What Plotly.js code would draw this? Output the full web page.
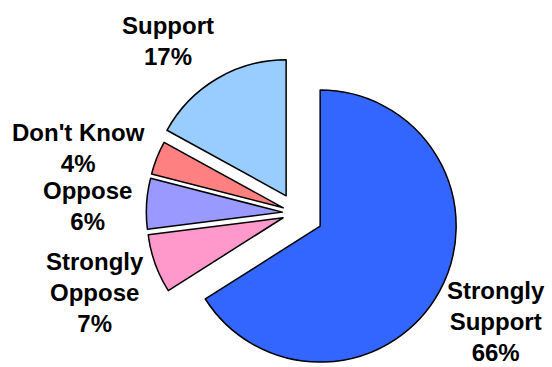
<!DOCTYPE html>
<html>
<head>
<meta charset="utf-8">
<script src="https://cdn.plot.ly/plotly-3.0.1.min.js"></script>
<style>
  html, body { margin: 0; padding: 0; background: #ffffff; overflow: hidden; }
  #wrap { width: 552px; height: 367px; overflow: hidden; }
</style>
</head>
<body>
<div id="wrap"><div id="chart"></div></div>
<script>
// ---- data ----
const categories = ["Strongly Support", "Strongly Oppose", "Oppose", "Don't Know", "Support"];
const labelLines = ["Strongly<br>Support", "Strongly<br>Oppose", "Oppose", "Don't Know", "Support"];
const shares = [66, 7, 6, 4, 17];
const sliceColors = ["#3366FF", "#FF99CC", "#9999FF", "#FF8080", "#99CCFF"];
const slicePull = [0.2, 0.103, 0.103, 0.103, 0.147];

// label anchor points (pixel positions in the 552 x 377 figure)
const labelPos = [[496, 321], [95, 292], [88, 206], [78, 148], [168, 41]];

const W = 552, H = 377;

const trace = {
  type: "pie",
  labels: categories,
  values: shares,
  sort: false,
  direction: "clockwise",
  rotation: 0,
  pull: slicePull,
  marker: { colors: sliceColors, line: { color: "#000000", width: 1.5 } },
  textinfo: "none",
  hoverinfo: "skip",
  showlegend: false,
  domain: { x: [0.1744, 0.8992], y: [0.0021, 0.8679] }
};

const total = shares.reduce((a, b) => a + b, 0);
const annotations = categories.map((c, i) => ({
  xref: "paper", yref: "paper",
  x: labelPos[i][0] / W,
  y: 1 - labelPos[i][1] / H,
  xanchor: "center", yanchor: "middle",
  align: "center",
  showarrow: false,
  text: labelLines[i] + "<br>" + Math.round(shares[i] / total * 100) + "%",
  font: { family: "Arial, 'Liberation Sans', sans-serif", size: 24, color: "#000000", weight: "bold" }
}));

const layout = {
  width: W, height: H,
  margin: { l: 0, r: 0, t: 0, b: 0 },
  paper_bgcolor: "#ffffff",
  plot_bgcolor: "#ffffff",
  annotations: annotations
};

Plotly.newPlot("chart", [trace], layout, { displayModeBar: false, staticPlot: true });
</script>
</body>
</html>
